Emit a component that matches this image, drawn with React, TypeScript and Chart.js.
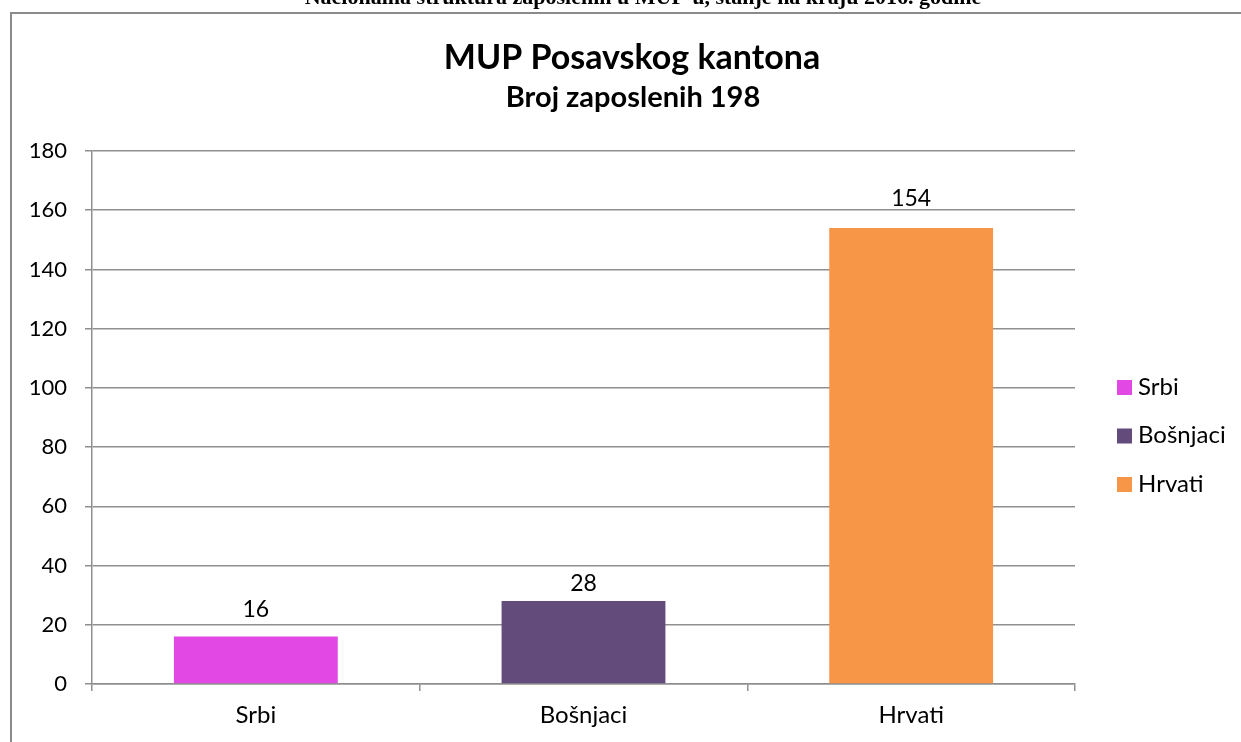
import React, { useEffect, useRef } from "react";
import { Chart, registerables } from "chart.js";

Chart.register(...registerables);

const categories = ["Srbi", "Bošnjaci", "Hrvati"];
const values = [16, 28, 154];
const colors = ["#E148E4", "#634B7C", "#F79646"];
const yTicks = [0, 20, 40, 60, 80, 100, 120, 140, 160, 180];
const chartTitle = "MUP Posavskog kantona";
const chartSubtitle = "Broj zaposlenih 198";
const pageCaption = "Nacionalna struktura zaposlenih u MUP-u, stanje na kraju 2016. godine";

// gap (px) between each value label's baseline and its bar top, as placed in the original
const labelGaps = [20, 10, 22];

const FONT = "Lato, 'Open Sans', sans-serif";
const GRID = "#8f8f8f";

const framePlugin = {
  id: "frame",
  beforeDraw(chart: any) {
    const ctx = chart.ctx;
    ctx.save();
    ctx.fillStyle = "#fff";
    ctx.fillRect(0, 0, chart.width, chart.height);
    // clipped caption above the frame
    ctx.font = "bold 22px 'Liberation Serif', 'DejaVu Serif', serif";
    ctx.fillStyle = "#000";
    ctx.textAlign = "center";
    ctx.textBaseline = "alphabetic";
    ctx.fillText(pageCaption, 643, 4);
    // frame
    ctx.strokeStyle = "#8a8a8a";
    ctx.lineWidth = 2;
    ctx.beginPath();
    ctx.moveTo(11, chart.height + 5);
    ctx.lineTo(11, 13);
    ctx.lineTo(chart.width + 5, 13);
    ctx.stroke();
    // titles
    ctx.fillStyle = "#000";
    ctx.font = "bold 34px " + FONT;
    ctx.fillText(chartTitle, 632, 69);
    ctx.font = "bold 29px " + FONT;
    ctx.fillText(chartSubtitle, 633, 107);
    ctx.restore();
  },
  afterDraw(chart: any) {
    const ctx = chart.ctx;
    ctx.save();
    // data labels
    const meta = chart.getDatasetMeta(0);
    ctx.font = "23px " + FONT;
    ctx.fillStyle = "#000";
    ctx.textAlign = "center";
    ctx.textBaseline = "alphabetic";
    meta.data.forEach((bar: any, i: number) => {
      ctx.fillText(String(chart.data.datasets[0].data[i]), bar.x, bar.y - labelGaps[i]);
    });
    // legend
    const labels = chart.data.labels as string[];
    const bg = chart.data.datasets[0].backgroundColor as string[];
    ctx.textAlign = "left";
    ctx.textBaseline = "middle";
    ctx.font = "24px " + FONT;
    labels.forEach((l, i) => {
      const y = 387 + i * 48.5;
      ctx.fillStyle = bg[i];
      ctx.fillRect(1117, y - 7, 15, 15);
      ctx.fillStyle = "#000";
      ctx.fillText(l, 1138, y);
    });
    ctx.restore();
  },
};

export default function App() {
  const ref = useRef<HTMLCanvasElement>(null);
  useEffect(() => {
    if (!ref.current) return;
    const chart = new Chart(ref.current, {
      type: "bar",
      data: {
        labels: categories,
        datasets: [
          {
            data: values,
            backgroundColor: colors,
            barPercentage: 0.5,
            categoryPercentage: 1,
          },
        ],
      },
      options: {
        responsive: false,
        animation: false,
        layout: { padding: { left: 0, top: 151, right: 166, bottom: 0 } },
        plugins: {
          legend: { display: false },
          title: { display: false },
          tooltip: { enabled: false },
        },
        scales: {
          x: {
            afterFit: (s: any) => {
              s.height = 58;
            },
            grid: {
              offset: true,
              drawOnChartArea: false,
              drawTicks: true,
              tickLength: 7,
              color: GRID,
              lineWidth: 1.5,
            },
            border: { color: GRID, width: 1.5 },
            ticks: {
              color: "#000",
              font: { family: FONT, size: 24 },
              padding: 10,
            },
          },
          y: {
            min: 0,
            max: 180,
            afterFit: (s: any) => {
              s.width = 92;
            },
            afterBuildTicks: (s: any) => {
              s.ticks = yTicks.map((v) => ({ value: v }));
            },
            grid: {
              color: GRID,
              lineWidth: 1.5,
              tickLength: 7,
            },
            border: { color: GRID, width: 1.5 },
            ticks: {
              color: "#000",
              font: { family: FONT, size: 22 },
              padding: 18,
            },
          },
        },
      },
      plugins: [framePlugin],
    });
    return () => chart.destroy();
  }, []);
  return (
    <div style={{ position: "absolute", left: 0, top: 0, width: 1241, height: 742 }}>
      <canvas ref={ref} width={1241} height={742} />
    </div>
  );
}
